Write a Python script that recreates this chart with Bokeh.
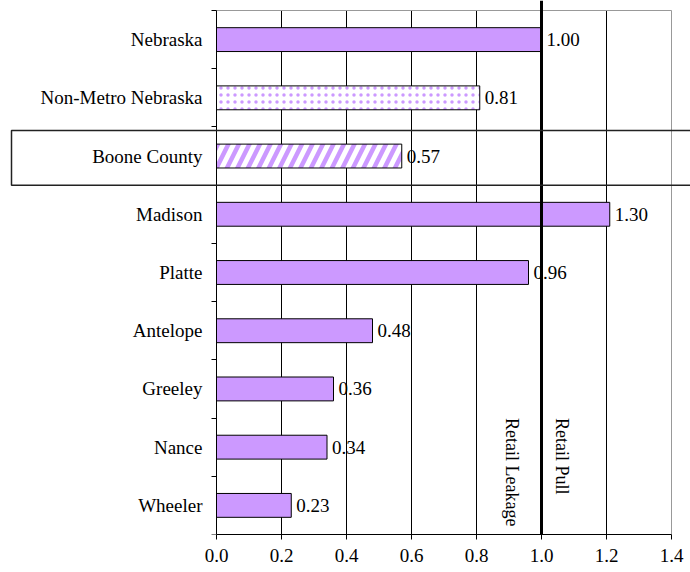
import math
from bokeh.plotting import figure
from bokeh.models import (ColumnDataSource, FixedTicker, NumeralTickFormatter, Range1d,
                          Span, Label, BoxAnnotation)
from bokeh.core.properties import value
from bokeh.embed import file_html
from bokeh.resources import INLINE

# ---- data ----
categories = ["Nebraska", "Non-Metro Nebraska", "Boone County", "Madison", "Platte",
              "Antelope", "Greeley", "Nance", "Wheeler"]
bar_lengths = [1.00, 0.81, 0.57, 1.21, 0.96, 0.48, 0.36, 0.34, 0.23]
value_labels = ["1.00", "0.81", "0.57", "1.30", "0.96", "0.48", "0.36", "0.34", "0.23"]
x_ticks = [0.0, 0.2, 0.4, 0.6, 0.8, 1.0, 1.2, 1.4]
reference_value = 1.0
highlight = "Boone County"
notes = ["Retail Leakage", "Retail Pull"]

# ---- layout / styles ----
W, H = 690, 572
FL, FR, FT, FB = 216, 671, 10, 534      # plot-area edges in pixels
BOX_LEFT_PX = 11                        # left edge of the highlight box
FONT = "Liberation Serif"
FS = "19px"
PURPLE = "#CC99FF"
BOX_COLOR = "#222222"
BORDER = "#999999"
hatch_for = {"Non-Metro Nebraska": "dot", "Boone County": "/"}
hatch_style = {"dot": dict(hatch_scale=7, hatch_weight=4),
               "/": dict(hatch_scale=21, hatch_weight=4.5)}

n = len(categories)
ypos = [n - 1 - i for i in range(n)]

x0, x1 = x_ticks[0], x_ticks[-1]
y0, y1 = -0.5, n - 0.5
px_per_x = (FR - FL) / (x1 - x0)
px_per_y = (FB - FT) / (y1 - y0)
xr = Range1d(x0 - FL / px_per_x, x1 + (W - FR) / px_per_x)
yr = Range1d(y0, y1 + FT / px_per_y)

p = figure(width=W, height=H, output_backend="svg", toolbar_location=None,
           x_range=xr, y_range=yr,
           min_border_left=0, min_border_right=0, min_border_top=0,
           min_border_bottom=H - FB)
p.outline_line_color = None
p.background_fill_color = "white"
p.border_fill_color = "white"
p.xgrid.grid_line_color = None
p.ygrid.grid_line_color = None

# vertical grid lines (black) and plot-area border (grey), limited to the plot area
inner = x_ticks[1:-1]
p.segment(x0=inner, y0=[y0] * len(inner), x1=inner, y1=[y1] * len(inner),
          line_color="black", line_width=1)
p.segment(x0=[x1, x0], y0=[y0, y1], x1=[x1, x1], y1=[y1, y1],
          line_color=BORDER, line_width=1)

# bars (one renderer per fill style)
for style in [None, "dot", "/"]:
    idx = [i for i, c in enumerate(categories) if hatch_for.get(c) == style]
    s = ColumnDataSource(dict(y=[ypos[i] for i in idx], v=[bar_lengths[i] for i in idx]))
    if style is None:
        p.hbar(y="y", right="v", left=0, height=0.41, source=s,
               fill_color=PURPLE, line_color="black", line_width=1)
    else:
        p.hbar(y="y", right="v", left=0, height=0.41, source=s,
               fill_color="white", line_color="black", line_width=1,
               hatch_pattern=style, hatch_color=PURPLE, **hatch_style[style])

# value labels
src = ColumnDataSource(dict(y=ypos, v=bar_lengths, lbl=value_labels))
p.text(x="v", y="y", text="lbl", source=src, x_offset=5,
       text_font=value(FONT), text_font_size=FS, text_baseline="middle",
       text_align="left", text_color="black")

# x axis
xa = p.xaxis[0]
xa.ticker = FixedTicker(ticks=x_ticks)
xa.bounds = (x0, x1)
xa.formatter = NumeralTickFormatter(format="0.0")
xa.axis_line_color = "black"
xa.major_tick_line_color = "black"
xa.major_tick_out = 5
xa.major_tick_in = 0
xa.minor_tick_line_color = None
xa.major_label_text_font = FONT
xa.major_label_text_font_size = FS
xa.major_label_text_color = "black"
xa.major_label_standoff = 9

# y axis (sits at x = 0)
ya = p.yaxis[0]
ya.fixed_location = x0
ya.bounds = (y0, y1)
ya.ticker = FixedTicker(ticks=ypos, minor_ticks=[k - 0.5 for k in range(n + 1)])
ya.major_label_overrides = {y: c for y, c in zip(ypos, categories)}
ya.axis_line_color = "black"
ya.major_tick_line_color = None
ya.major_tick_out = 0
ya.major_tick_in = 0
ya.minor_tick_line_color = "black"
ya.minor_tick_out = 5
ya.minor_tick_in = 0
ya.major_label_text_font = FONT
ya.major_label_text_font_size = FS
ya.major_label_text_color = "black"
ya.major_label_standoff = 9

# highlight box around the Boone County row
hy = ypos[categories.index(highlight)]
p.add_layout(BoxAnnotation(left=xr.start + BOX_LEFT_PX / px_per_x, right=xr.end + 0.1,
                           top=hy + 0.44, bottom=hy - 0.5,
                           fill_color=None, fill_alpha=0, line_color=BOX_COLOR,
                           line_alpha=1.0, line_width=1.5, level="overlay"))

# bold reference line at 1.0
p.add_layout(Span(location=reference_value, dimension="height", line_color="black",
                  line_width=3))

# rotated notes
p.add_layout(Label(x=reference_value, y=1.5, x_offset=-30, text=notes[0],
                   angle=-math.pi / 2, text_font=FONT, text_font_size="18px",
                   text_align="left", text_baseline="middle", text_color="black"))
p.add_layout(Label(x=reference_value, y=1.5, x_offset=20, text=notes[1],
                   angle=-math.pi / 2, text_font=FONT, text_font_size="18px",
                   text_align="left", text_baseline="middle", text_color="black"))

open("out.html", "w").write(file_html(p, INLINE))
